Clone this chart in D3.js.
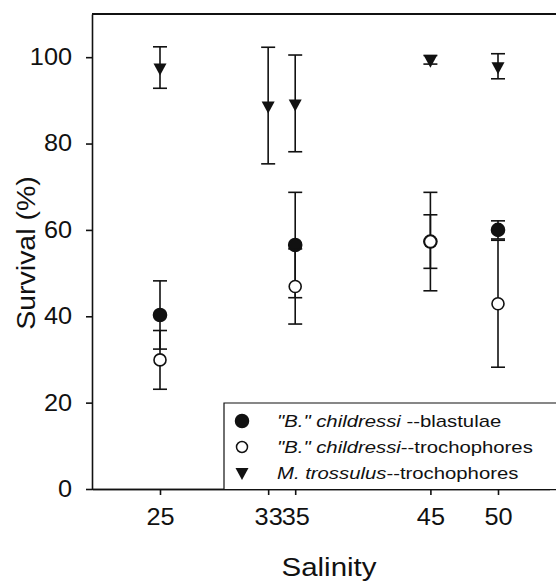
<!DOCTYPE html>
<html>
<head>
<meta charset="utf-8">
<script src="https://cdn.jsdelivr.net/npm/d3@7"></script>
<style>
  html, body { margin: 0; background: #fff; overflow: hidden; }
  svg { display: block; overflow: hidden; font-family: "Liberation Sans", Arial, sans-serif; }
  .axis path, .axis line { stroke: #111; stroke-width: 1.6px; }
  .axis text { fill: #111; }
</style>
</head>
<body>
<svg id="chart" width="556" height="583"></svg>
<script>
// salinity treatments
const salinity = [25, 33, 35, 45, 50];

// "B." childressi blastulae (null = not tested)
const blastMean = [40.3, null, 56.5, 57.3, 60.0];
const blastErr = [7.9, null, 12.2, 6.2, 2.1];

// "B." childressi trochophores
const trochMean = [29.9, null, 46.9, 57.3, 42.9];
const trochErr = [6.8, null, 8.7, 11.4, 14.7];

// M. trossulus trochophores
const mytMean = [97.6, 88.8, 89.3, 99.4, 97.9];
const mytErr = [4.8, 13.5, 11.2, 1.0, 2.9];

const yTicks = [0, 20, 40, 60, 80, 100];

const legendItems = [
  { sym: 'filled', ital: '"B." childressi', rest: ' --blastulae' },
  { sym: 'open', ital: '"B." childressi', rest: '--trochophores' },
  { sym: 'tri', ital: 'M. trossulus', rest: '--trochophores' },
];

const c = {
  width: 556,
  height: 583,
  margin: { left: 92, top: 14, bottom: 94 },
  tickFont: 23,
  titleFont: 25,
  legendFont: 16,
  stretch: 1.1,
};

const svg = d3.select('#chart');

// the plot runs off the right edge of the page
const x = d3.scaleLinear([20, 55], [c.margin.left + 0.4, 565.6]);
const y = d3.scaleLinear([0, 110], [c.height - c.margin.bottom, c.margin.top]);

function rows(means, errs) {
  return salinity
    .map((s, i) => ({ s, m: means[i], e: errs[i] }))
    .filter((d) => d.m != null);
}

// X axis
const xAxisEl = svg.append('g')
  .attr('class', 'axis')
  .attr('transform', `translate(0,${y(0)})`)
  .call(d3.axisBottom(x).tickValues(salinity).tickSizeInner(6).tickSizeOuter(0).tickPadding(14));
xAxisEl.selectAll('.tick text')
  .attr('font-size', c.tickFont)
  .attr('transform', `scale(${c.stretch},1)`);

// Y axis
const yAxisEl = svg.append('g')
  .attr('class', 'axis')
  .attr('transform', `translate(${c.margin.left},0)`)
  .call(d3.axisLeft(y).tickValues(yTicks).tickSizeInner(6).tickSizeOuter(0).tickPadding(14));
yAxisEl.selectAll('.tick text')
  .attr('font-size', c.tickFont)
  .attr('x', -20 / c.stretch)
  .attr('transform', `scale(${c.stretch},1)`);

// the frame has no right border: blank the strip at the page edge
svg.append('rect')
  .attr('x', c.width - 6).attr('y', y(110) + 1)
  .attr('width', 6).attr('height', y(0) - y(110) + 12)
  .attr('fill', '#fff');

// top frame line and bottom axis line, both running to the edge
svg.append('line')
  .attr('x1', c.margin.left).attr('x2', c.width)
  .attr('y1', y(110)).attr('y2', y(110))
  .attr('stroke', '#111').attr('stroke-width', 2);
svg.append('line')
  .attr('x1', c.margin.left).attr('x2', c.width)
  .attr('y1', y(0) + 0.5).attr('y2', y(0) + 0.5)
  .attr('stroke', '#111').attr('stroke-width', 1.6);

// axis titles
svg.append('text')
  .attr('transform', `translate(329,576) scale(1.18,1)`)
  .attr('text-anchor', 'middle')
  .attr('font-size', c.titleFont)
  .attr('fill', '#111')
  .text('Salinity');

svg.append('text')
  .attr('transform', `translate(35,253) rotate(-90) scale(1.14,1)`)
  .attr('text-anchor', 'middle')
  .attr('font-size', c.titleFont)
  .attr('fill', '#111')
  .text('Survival (%)');

// markers
function triPath(s) {
  return `M${-6.5 * s},${-4 * s}L${6.5 * s},${-4 * s}L0,${8 * s}Z`;
}

function drawSeries(data, sym) {
  const g = svg.append('g');
  const bars = g.selectAll('g.bar').data(data).join('g').attr('class', 'bar');
  bars.append('line')
    .attr('x1', (d) => x(d.s)).attr('x2', (d) => x(d.s))
    .attr('y1', (d) => y(d.m + d.e)).attr('y2', (d) => y(d.m - d.e))
    .attr('stroke', '#111').attr('stroke-width', 1.6);
  [1, -1].forEach((k) => {
    bars.append('line')
      .attr('x1', (d) => x(d.s) - 7).attr('x2', (d) => x(d.s) + 7)
      .attr('y1', (d) => y(d.m + k * d.e)).attr('y2', (d) => y(d.m + k * d.e))
      .attr('stroke', '#111').attr('stroke-width', 1.6);
  });
  if (sym === 'tri') {
    g.selectAll('path.pt').data(data).join('path')
      .attr('class', 'pt')
      .attr('d', triPath(1))
      .attr('transform', (d) => `translate(${x(d.s)},${y(d.m)})`)
      .attr('fill', '#111');
  } else {
    g.selectAll('circle.pt').data(data).join('circle')
      .attr('class', 'pt')
      .attr('cx', (d) => x(d.s)).attr('cy', (d) => y(d.m))
      .attr('r', sym === 'open' ? 6 : 6.5)
      .attr('fill', sym === 'open' ? '#fff' : '#111')
      .attr('stroke', '#111').attr('stroke-width', 1.6);
  }
}

drawSeries(rows(mytMean, mytErr), 'tri');
drawSeries(rows(blastMean, blastErr), 'filled');
drawSeries(rows(trochMean, trochErr), 'open');

// legend box: open on the right, sits on the x axis
const legX = 224;
const legY = 403;
const leg = svg.append('g').attr('transform', `translate(${legX},${legY})`);
leg.append('rect')
  .attr('width', c.width - legX).attr('height', y(0) - legY)
  .attr('fill', '#fff');
leg.append('path')
  .attr('d', `M${c.width - legX},0H0V${y(0) - legY}`)
  .attr('fill', 'none').attr('stroke', '#111').attr('stroke-width', 1.2);

const li = leg.selectAll('g.item').data(legendItems).join('g')
  .attr('class', 'item')
  .attr('transform', (d, i) => `translate(0,${18 + i * 26})`);

li.each(function (d) {
  const g = d3.select(this);
  if (d.sym === 'tri') {
    g.append('path').attr('d', triPath(1)).attr('transform', 'translate(18,-1)').attr('fill', '#111');
  } else {
    g.append('circle')
      .attr('cx', 18).attr('cy', 0)
      .attr('r', d.sym === 'open' ? 5.5 : 6.5)
      .attr('fill', d.sym === 'open' ? '#fff' : '#111')
      .attr('stroke', '#111').attr('stroke-width', 1.5);
  }
  const t = g.append('text')
    .attr('transform', 'translate(53,6) scale(1.27,1)')
    .attr('font-size', c.legendFont)
    .attr('fill', '#111');
  t.append('tspan').attr('font-style', 'italic').text(d.ital);
  t.append('tspan').text(d.rest);
});
</script>
</body>
</html>
